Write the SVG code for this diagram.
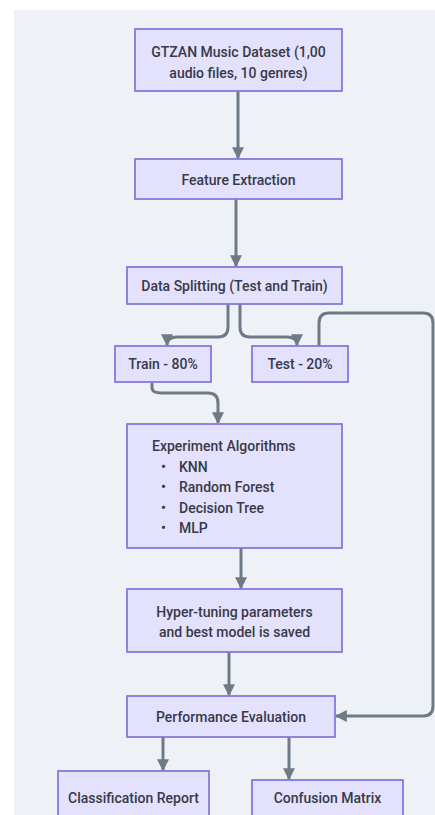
<svg xmlns="http://www.w3.org/2000/svg" width="435" height="815" viewBox="0 0 435 815">
<style>
.bg{fill:#eef2f6}
.box{fill:#e3e1fb;stroke:#8479dc;stroke-width:1.8}
.t{font-family:Roboto,"Liberation Sans",sans-serif;font-size:14px;font-weight:500;fill:#363a4a;text-anchor:middle}
.l{text-anchor:start}
.c{fill:none;stroke:#6f7a86;stroke-width:3;stroke-linejoin:round}
</style>
<defs>
<marker id="ah" viewBox="0 0 10 10" refX="9" refY="5" markerWidth="4" markerHeight="4" orient="auto" markerUnits="strokeWidth">
<path d="M0,0 L10,5 L0,10 z" fill="#6f7a86"/>
</marker>
</defs>
<rect class="bg" x="14" y="10" width="421" height="805"/>
<g id="connectors">
<path class="c" d="M238,91 V158" marker-end="url(#ah)"/>
<path class="c" d="M236,199 V266" marker-end="url(#ah)"/>
<path class="c" d="M228,304 V327 Q228,337 218,337 H177 Q167,337 167,345" marker-end="url(#ah)"/>
<path class="c" d="M240,304 V327 Q240,337 250,337 H287 Q297,337 297,345" marker-end="url(#ah)"/>
<path class="c" d="M319,346 V323 Q319,313 329,313 H423 Q433,313 433,323 V706 Q433,716 423,716 H336" marker-end="url(#ah)"/>
<path class="c" d="M152,382 V388 Q152,393 162,393 H208 Q218,393 218,403 V423" marker-end="url(#ah)"/>
<path class="c" d="M241,548 V588" marker-end="url(#ah)"/>
<path class="c" d="M229,652 V695" marker-end="url(#ah)"/>
<path class="c" d="M163,737 V770" marker-end="url(#ah)"/>
<path class="c" d="M289,737 V779" marker-end="url(#ah)"/>
</g>
<g id="gtzan"><rect class="box" x="135" y="29" width="207" height="62"/>
<text class="t" x="238.5" y="57">GTZAN Music Dataset (1,00</text>
<text class="t" x="238.5" y="78">audio files, 10 genres)</text></g>
<g id="feature"><rect class="box" x="135" y="159" width="207" height="40"/>
<text class="t" x="238.5" y="185">Feature Extraction</text></g>
<g id="split"><rect class="box" x="127" y="267" width="215" height="37"/>
<text class="t" x="234.5" y="291">Data Splitting (Test and Train)</text></g>
<g id="train"><rect class="box" x="115" y="346" width="96" height="36"/>
<text class="t" x="163" y="369">Train - 80%</text></g>
<g id="test"><rect class="box" x="252" y="346" width="96" height="36"/>
<text class="t" x="300" y="369">Test - 20%</text></g>
<g id="experiment"><rect class="box" x="127" y="424" width="215" height="124"/>
<text class="t l" x="152" y="451">Experiment Algorithms</text>
<text class="t l" x="161" y="471.5">•</text><text class="t l" x="179" y="471.5">KNN</text>
<text class="t l" x="161" y="492">•</text><text class="t l" x="179" y="492">Random Forest</text>
<text class="t l" x="161" y="512.5">•</text><text class="t l" x="179" y="512.5">Decision Tree</text>
<text class="t l" x="161" y="532.5">•</text><text class="t l" x="179" y="532.5">MLP</text></g>
<g id="hyper"><rect class="box" x="127" y="589" width="215" height="63"/>
<text class="t" x="234.5" y="617">Hyper-tuning parameters</text>
<text class="t" x="234.5" y="637">and best model is saved</text></g>
<g id="perf"><rect class="box" x="127" y="696" width="208" height="41"/>
<text class="t" x="231" y="722">Performance Evaluation</text></g>
<g id="report"><rect class="box" x="58" y="771" width="151" height="50"/>
<text class="t" x="133.5" y="803">Classification Report</text></g>
<g id="matrix"><rect class="box" x="252" y="780" width="151" height="41"/>
<text class="t" x="327.5" y="803">Confusion Matrix</text></g>
</svg>
